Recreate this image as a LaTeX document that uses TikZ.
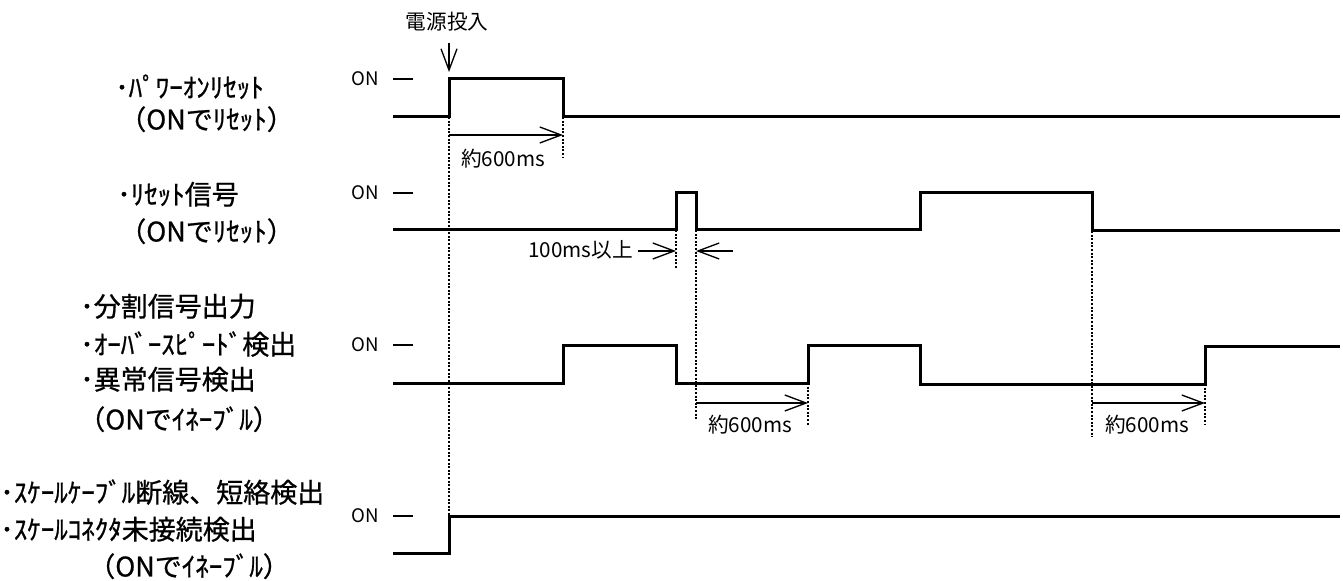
\documentclass[tikz,border=0pt]{standalone}
\usepackage{fontspec}
\setmainfont{Noto Sans CJK JP}
\newfontfamily\lblfont[FakeBold=0.8]{Noto Sans CJK JP}
\usetikzlibrary{arrows.meta}
\tikzset{
  sig/.style={line width=2.25pt, line join=miter, line cap=butt},
  guide/.style={line width=0.9pt, dash pattern=on 1.5pt off 1.2pt},
  meas/.style={line width=1pt, -{Straight Barb[length=16pt,width=12pt]}},
  lbl/.style={anchor=west, inner sep=0pt, font=\lblfont\fontsize{20.25pt}{24pt}\selectfont, text height=17.2pt, text depth=3pt},
  small/.style={inner sep=0pt, font=\fontsize{15.5pt}{18pt}\selectfont, text height=12.7pt, text depth=2.3pt},
  onlbl/.style={inner sep=0pt, font=\fontsize{14pt}{17pt}\selectfont},
  ontick/.style={line width=1.2pt},
}
\begin{document}
\begin{tikzpicture}[x=0.75pt,y=-0.75pt]
\useasboundingbox (0,0) rectangle (1343,581);

% ---------- left labels ----------
\node[lbl] (l1a) at (115,88) {･ﾊﾟﾜｰｵﾝﾘｾｯﾄ};
\node[lbl] (l1b) at (119,120) {（ONでﾘｾｯﾄ）};
\node[lbl] (l2a) at (117,195) {･ﾘｾｯﾄ信号};
\node[lbl] (l2b) at (119,232) {（ONでﾘｾｯﾄ）};
\node[lbl] (l3a) at (80,307) {･分割信号出力};
\node[lbl] (l3b) at (80,345) {･ｵｰﾊﾞｰｽﾋﾟｰﾄﾞ検出};
\node[lbl] (l3c) at (80,380) {･異常信号検出};
\node[lbl] (l3d) at (78,420) {（ONでｲﾈｰﾌﾞﾙ）};
\node[lbl] (l4a) at (0,493) {･ｽｹｰﾙｹｰﾌﾞﾙ断線、短絡検出};
\node[lbl] (l4b) at (0,530) {･ｽｹｰﾙｺﾈｸﾀ未接続検出};
\node[lbl] (l4c) at (88,567) {（ONでｲﾈｰﾌﾞﾙ）};

% ---------- ON markers ----------
\node[onlbl] (on1) at (365,79) {ON};
\node[onlbl] (on2) at (365,193) {ON};
\node[onlbl] (on3) at (365,345) {ON};
\node[onlbl] (on4) at (365,516) {ON};
\draw[ontick] (393,79) -- (413,79);
\draw[ontick] (393,193) -- (413,193);
\draw[ontick] (393,345) -- (413,345);
\draw[ontick] (393,516) -- (413,516);

% ---------- guide lines ----------
\draw[guide] (449,117) -- (449,516);
\draw[guide] (563,117) -- (563,157);
\draw[guide] (676,230) -- (676,268);
\draw[guide] (696,230) -- (696,420);
\draw[guide] (808,383) -- (808,425);
\draw[guide] (1092,231) -- (1092,437);
\draw[guide] (1205,384) -- (1205,425);

% ---------- waveforms ----------
\draw[sig] (393,117) -- (449,117) -- (449,79) -- (563,79) -- (563,117) -- (1340,117);
\draw[sig] (393,230) -- (676,230) -- (676,193) -- (696,193) -- (696,230) -- (920,230)
           -- (920,193) -- (1092,193) -- (1092,231) -- (1340,231);
\draw[sig] (393,383) -- (563,383) -- (563,345) -- (676,345) -- (676,383) -- (808,383)
           -- (808,345) -- (920,345) -- (920,384) -- (1205,384) -- (1205,346) -- (1340,346);
\draw[sig] (393,553) -- (449,553) -- (449,516) -- (1340,516);

% ---------- power-on marker ----------
\node[small] (pwr) at (447,23) {電源投入};
\coordinate (pwrs) at (449,43);
\coordinate (pwre) at (449,72);
\draw[meas] (pwrs) -- (pwre);

% ---------- timing arrows ----------
\coordinate (a1s) at (449,135);
\coordinate (a1e) at (563,135);
\draw[meas] (a1s) -- (a1e);
\node[small,anchor=west] (t1) at (461,160) {約600ms};

\coordinate (a2s) at (696,403);
\coordinate (a2e) at (808,403);
\draw[meas] (a2s) -- (a2e);
\node[small,anchor=west] (t2) at (708,426) {約600ms};

\coordinate (a3s) at (1092,403);
\coordinate (a3e) at (1205,403);
\draw[meas] (a3s) -- (a3e);
\node[small,anchor=west] (t3) at (1105,426) {約600ms};

\node[small,anchor=east] (t4) at (633,251) {100ms以上};
\coordinate (b1s) at (638,251);
\coordinate (b1e) at (676,251);
\coordinate (b2s) at (733,251);
\coordinate (b2e) at (696,251);
\draw[meas] (b1s) -- (b1e);
\draw[meas] (b2s) -- (b2e);
\end{tikzpicture}
\end{document}
